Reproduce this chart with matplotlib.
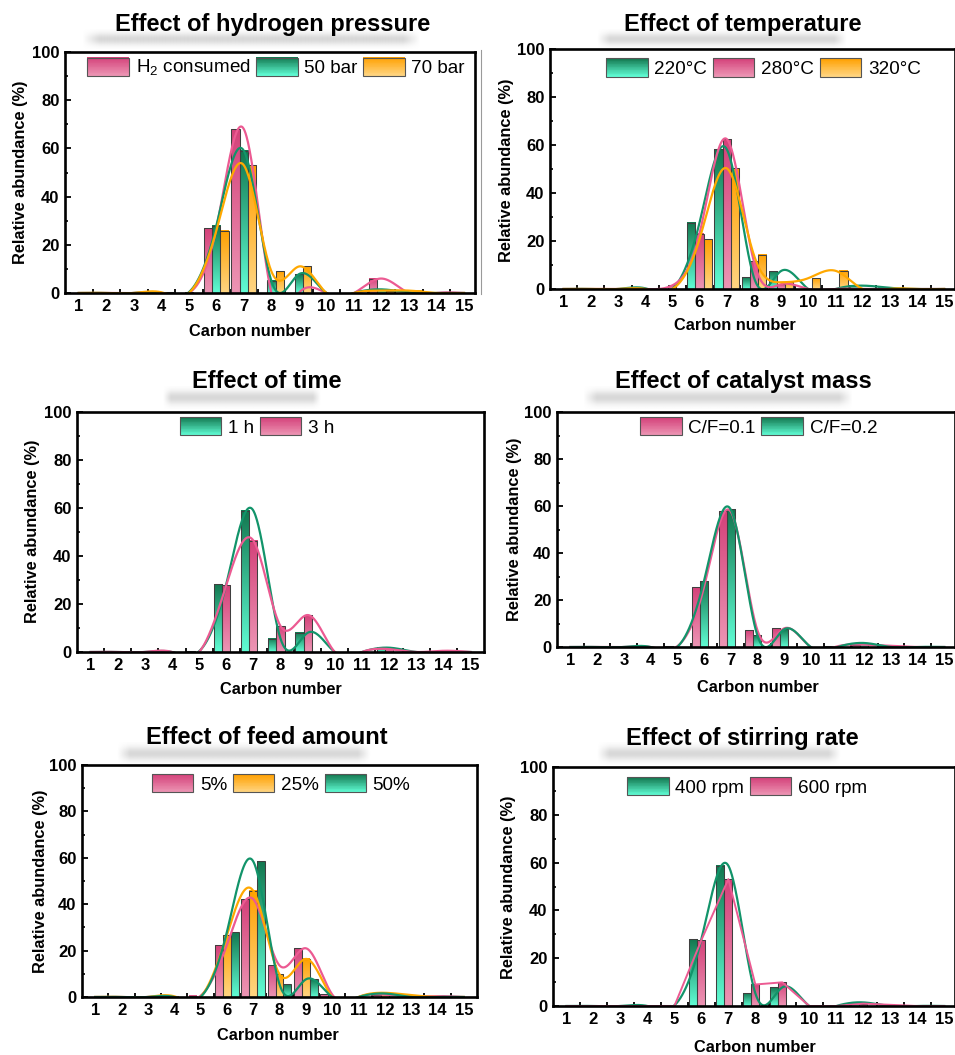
import numpy as np
import matplotlib
matplotlib.use("Agg")
import matplotlib.pyplot as plt
from matplotlib.patches import Rectangle
from matplotlib.legend_handler import HandlerBase
from matplotlib.colors import to_rgb
from matplotlib.lines import Line2D

plt.rcParams['font.family'] = ['Liberation Sans', 'DejaVu Sans']
plt.rcParams['mathtext.fontset'] = 'custom'
plt.rcParams['mathtext.rm'] = 'Liberation Sans'

# ---- data (relative abundance, %) ----
carbon = list(range(1, 16))

# effect of hydrogen pressure
h2_consumed = [0, 0, 0, 0, 0, 26.8, 68.0, 0, 0, 0, 0, 6.0, 0, 0, 0]
p50_bar = [0, 0, 0, 0, 0.3, 27.9, 59.0, 5.0, 7.8, 0, 0, 1.5, 0.3, 0, 0]
p70_bar = [0, 0, 0, 0.3, 0, 25.9, 53.0, 9.0, 11.0, 0, 0, 1.0, 1.0, 0, 0]

# effect of temperature
t220 = [0, 0, 0, 0.3, 0, 27.6, 58.3, 4.9, 7.5, 0, 0, 1.4, 0.5, 0, 0]
t280 = [0, 0, 0, 0, 1.5, 23.0, 62.5, 11.5, 2.0, 0, 0, 0, 0, 0, 0]
t320 = [0, 0, 0, 0, 0, 20.7, 50.3, 14.2, 2.8, 4.5, 7.6, 0, 0, 0, 0]

# effect of time
time_1h = [0, 0, 0, 0, 0.3, 28.2, 58.9, 5.6, 8.0, 0, 0, 1.8, 0, 0, 0]
time_3h = [0, 0, 0, 0, 0, 27.8, 46.4, 10.8, 15.4, 0, 0, 1.2, 0, 0.5, 0]

# effect of catalyst mass
cf_01 = [0, 0, 0, 0, 0.3, 25.4, 57.7, 7.2, 7.9, 0, 0.3, 1.0, 0.5, 0, 0]
cf_02 = [0, 0, 0, 0, 0, 27.9, 58.6, 5.0, 7.5, 0, 0, 1.7, 0, 0, 0]

# effect of feed amount
feed_5 = [0, 0, 0, 0, 0.5, 22.4, 42.2, 13.6, 21.0, 1.1, 0, 1.0, 0.3, 0.4, 0]
feed_25 = [0, 0, 0, 0.3, 0, 26.6, 45.8, 9.8, 16.4, 0, 0, 1.8, 0.8, 0, 0]
feed_50 = [0, 0, 0, 0, 0, 27.9, 58.5, 5.5, 7.6, 0, 0, 1.5, 0, 0, 0]

# effect of stirring rate
rpm_400 = [0, 0, 0, 0, 0.3, 28.0, 58.7, 5.3, 7.8, 0, 0, 1.5, 0, 0, 0]
rpm_600 = [0, 0, 0, 0, 0, 27.6, 53.1, 9.0, 9.9, 0, 0, 1.0, 0.5, 0, 0]

PINK = dict(top='#d4427a', bottom='#ec95b4', line='#ec5a92')
GREEN = dict(top='#137850', bottom='#60fdd4', line='#12946a')
ORANGE = dict(top='#ffa000', bottom='#ffd582', line='#ffa800')

W, H = 955, 1055


def fx(x):
    return x / W


def fy(y):
    return 1 - y / H


def natural_spline(x, y, num=800):
    x = np.asarray(x, float)
    y = np.asarray(y, float)
    n = len(x)
    h = np.diff(x)
    A = np.zeros((n, n))
    r = np.zeros(n)
    A[0, 0] = A[-1, -1] = 1.0
    for i in range(1, n - 1):
        A[i, i - 1] = h[i - 1]
        A[i, i] = 2 * (h[i - 1] + h[i])
        A[i, i + 1] = h[i]
        r[i] = 3 * ((y[i + 1] - y[i]) / h[i] - (y[i] - y[i - 1]) / h[i - 1])
    c = np.linalg.solve(A, r)
    b = (y[1:] - y[:-1]) / h - h * (2 * c[:-1] + c[1:]) / 3
    d = (c[1:] - c[:-1]) / (3 * h)
    xs = np.linspace(x[0], x[-1], num)
    k = np.clip(np.searchsorted(x, xs) - 1, 0, n - 2)
    t = xs - x[k]
    return xs, y[k] + b[k] * t + c[k] * t ** 2 + d[k] * t ** 3


def gradient(top, bottom, n=64):
    t = np.linspace(0, 1, n)[:, None]
    a = np.array(to_rgb(top))
    b = np.array(to_rgb(bottom))
    return (a * (1 - t) + b * t)[:, None, :]


class GradientHandler(HandlerBase):
    def __init__(self, col):
        super().__init__()
        self.col = col

    def create_artists(self, legend, orig_handle, xdescent, ydescent,
                       width, height, fontsize, trans):
        n = 24
        g = gradient(self.col['top'], self.col['bottom'], n)[:, 0, :]
        arts = []
        for i in range(n):
            y0 = -ydescent + height * (n - 1 - i) / n
            arts.append(Rectangle((-xdescent, y0), width, height / n * 1.08,
                                  facecolor=g[i], edgecolor='none', transform=trans))
        arts.append(Rectangle((-xdescent, -ydescent), width, height, facecolor='none',
                              edgecolor='#555555', lw=0.8, transform=trans))
        return arts


def add_blur(x0, x1, y0, y1):
    bax = fig.add_axes([fx(x0), fy(y1), (x1 - x0) / W, (y1 - y0) / H])
    bax.axis('off')
    xs = np.linspace(-1, 1, 300)
    ys = np.linspace(-1, 1, 40)
    px = np.clip((1 - np.abs(xs)) / 0.1, 0, 1)
    py = np.exp(-(ys / 0.6) ** 2)
    rgba = np.zeros((40, 300, 4))
    rgba[..., :3] = 0.6
    rgba[..., 3] = 0.38 * np.outer(py, px)
    bax.imshow(rgba, aspect='auto', interpolation='bilinear')


panels = [
    dict(title='Effect of hydrogen pressure', rect=(65, 52, 475, 293), xmax=15.4,
         series=[(h2_consumed, PINK, r'H$_\mathregular{2}$ consumed'),
                 (p50_bar, GREEN, '50 bar'), (p70_bar, ORANGE, '70 bar')],
         title_xy=(273, 25), xlab_xy=(250, 332), ylab_xy=(20, 172),
         leg=(0.515, 0.934), blur=(82, 420, 29, 49), linear=[]),
    dict(title='Effect of temperature', rect=(550, 49, 955, 289), xmax=15.4,
         series=[(t220, GREEN, '220°C'), (t280, PINK, '280°C'), (t320, ORANGE, '320°C')],
         title_xy=(743, 25), xlab_xy=(735, 325), ylab_xy=(507, 170),
         leg=(0.527, 0.92), blur=(597, 847, 29, 49), linear=[]),
    dict(title='Effect of time', rect=(77, 412, 484, 652), xmax=15.5,
         series=[(time_1h, GREEN, '1 h'), (time_3h, PINK, '3 h')],
         title_xy=(267, 381), xlab_xy=(281, 690), ylab_xy=(33, 531),
         leg=(0.442, 0.9375), blur=(163, 320, 386, 409), linear=[]),
    dict(title='Effect of catalyst mass', rect=(557, 412, 955, 647), xmax=15.4,
         series=[(cf_01, PINK, 'C/F=0.1'), (cf_02, GREEN, 'C/F=0.2')],
         title_xy=(743, 381), xlab_xy=(758, 687), ylab_xy=(515, 529),
         leg=(0.507, 0.936), blur=(583, 853, 386, 409), linear=[]),
    dict(title='Effect of feed amount', rect=(82, 765, 477, 997), xmax=15.5,
         series=[(feed_5, PINK, '5%'), (feed_25, ORANGE, '25%'), (feed_50, GREEN, '50%')],
         title_xy=(267, 738), xlab_xy=(278, 1035), ylab_xy=(40, 881),
         leg=(0.504, 0.918), blur=(117, 370, 742, 765), linear=[]),
    dict(title='Effect of stirring rate', rect=(553, 767, 955, 1006), xmax=15.4,
         series=[(rpm_400, GREEN, '400 rpm'), (rpm_600, PINK, '600 rpm')],
         title_xy=(742, 738), xlab_xy=(755, 1047), ylab_xy=(508, 887),
         leg=(0.483, 0.916), blur=(597, 840, 742, 765), linear=[1]),
]

fig = plt.figure(figsize=(W / 100, H / 100), dpi=100)
x = np.array(carbon, float)
bw = 0.3

for p in panels:
    add_blur(*p['blur'])
    l, t, r, b = p['rect']
    ax = fig.add_axes([fx(l), fy(b), (r - l) / W, (b - t) / H])
    ns = len(p['series'])
    offsets = [-0.3, 0.0, 0.3] if ns == 3 else [-0.3, 0.0]
    handles, labels, hmap = [], [], {}
    for (vals, col, lab), off in zip(p['series'], offsets):
        img = gradient(col['top'], col['bottom'])
        bars = ax.bar(x + off, vals, bw, facecolor='none', edgecolor='#3f3f3f',
                      linewidth=0.75, zorder=3)
        for rect, v in zip(bars, vals):
            if v <= 0:
                continue
            x0 = rect.get_x()
            ax.imshow(img, extent=(x0, x0 + bw, 0, v), aspect='auto', origin='upper',
                      zorder=2, interpolation='bilinear')
        h = Rectangle((0, 0), 1, 1)
        handles.append(h)
        labels.append(lab)
        hmap[h] = GradientHandler(col)
    for i, (vals, col, lab) in enumerate(p['series']):
        if i in p['linear']:
            ax.plot(x, vals, color=col['line'], lw=1.4, zorder=4)
        else:
            xs, ys = natural_spline(x, vals)
            ax.plot(xs, ys, color=col['line'], lw=1.6, zorder=4)

    ax.set_xlim(0.5, p['xmax'])
    ax.set_ylim(0, 100)
    ax.set_xticks(carbon)
    ax.set_xticks(np.arange(1.5, 15.0, 1.0), minor=True)
    ax.set_yticks(range(0, 101, 20))
    ax.set_yticks(range(10, 100, 20), minor=True)
    ax.tick_params(axis='x', which='major', length=0, pad=4, labelsize=12)
    ax.tick_params(axis='x', which='minor', direction='in', length=3, width=1.3)
    ax.tick_params(axis='y', which='major', direction='in', length=4, width=1.3,
                   pad=4, labelsize=12)
    ax.tick_params(axis='y', which='minor', direction='in', length=2.5, width=1.2)
    for lbl in ax.get_xticklabels() + ax.get_yticklabels():
        lbl.set_fontweight('bold')
    for sp in ax.spines.values():
        sp.set_linewidth(1.9)
        sp.set_zorder(6)

    ax.legend(handles, labels, handler_map=hmap, loc='center',
              bbox_to_anchor=p['leg'], ncol=ns, frameon=False, fontsize=13.6,
              handlelength=2.2, handleheight=1.1, handletextpad=0.35,
              columnspacing=0.3, borderpad=0, borderaxespad=0)

    tx, ty = p['title_xy']
    fig.text(fx(tx), fy(ty), p['title'], ha='center', va='center',
             fontsize=17, fontweight='bold')
    lx, ly = p['xlab_xy']
    fig.text(fx(lx), fy(ly), 'Carbon number', ha='center', va='center',
             fontsize=11.8, fontweight='bold')
    yx, yy = p['ylab_xy']
    fig.text(fx(yx), fy(yy), 'Relative abundance (%)', ha='center', va='center',
             rotation=90, fontsize=11.8, fontweight='bold')

fig.add_artist(Line2D([fx(481), fx(481)], [fy(50), fy(294)], color='#9a9a9a', lw=0.8))

fig.savefig('out.png', dpi=100)
